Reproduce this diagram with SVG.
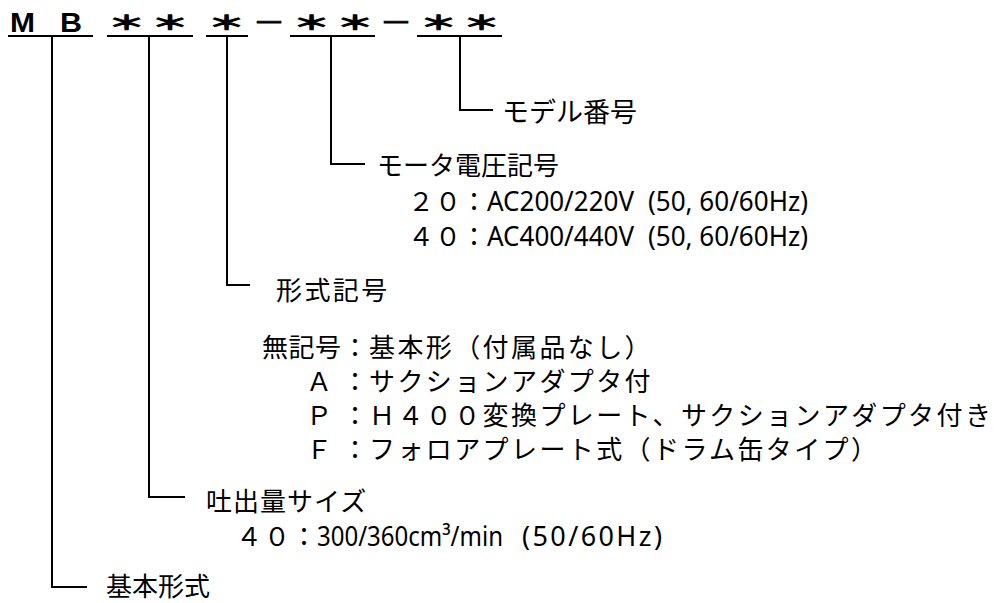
<svg xmlns="http://www.w3.org/2000/svg" width="995" height="603" viewBox="0 0 995 603">
<style>
  .jp { font-family: "Noto Sans CJK JP", "Noto Sans", sans-serif; font-size: 26px; fill: #000; }
  .sp { letter-spacing: 2.4px; }
  .num { font-family: "Noto Sans", "Noto Sans CJK JP", sans-serif; font-size: 27px; }
  .hd { font-family: "Liberation Sans", "DejaVu Sans", sans-serif; font-weight: bold; font-size: 28px; fill: #000; }
  .ast { font-family: "Noto Sans CJK JP", sans-serif; font-size: 19px; fill: #000; stroke: #000; stroke-width: 1.3; text-anchor: middle; }
  .dash { font-family: "Noto Sans CJK JP", sans-serif; font-size: 26px; fill: #000; stroke: #000; stroke-width: 0.8; text-anchor: middle; }
  .ln { stroke: #000; stroke-width: 2; fill: none; }
</style>
<rect width="995" height="603" fill="#fff"/>

<g id="header">
  <text class="hd" x="10" y="32" textLength="25" lengthAdjust="spacingAndGlyphs">M</text>
  <text class="hd" x="60" y="32" textLength="22" lengthAdjust="spacingAndGlyphs">B</text>
  <text class="ast" transform="translate(126.5,29.5) scale(1.9,1)">＊</text>
  <text class="ast" transform="translate(170,29.5) scale(1.9,1)">＊</text>
  <text class="ast" transform="translate(226.5,29.5) scale(1.9,1)">＊</text>
  <text class="dash" transform="translate(269,31.5) scale(1.25,1)">－</text>
  <text class="ast" transform="translate(311.5,29.5) scale(1.9,1)">＊</text>
  <text class="ast" transform="translate(355,29.5) scale(1.9,1)">＊</text>
  <text class="dash" transform="translate(396,31.5) scale(1.25,1)">－</text>
  <text class="ast" transform="translate(438.5,29.5) scale(1.9,1)">＊</text>
  <text class="ast" transform="translate(481.5,29.5) scale(1.9,1)">＊</text>
  <line class="ln" x1="8" y1="36" x2="93" y2="36"/>
  <line class="ln" x1="107" y1="36" x2="193" y2="36"/>
  <line class="ln" x1="206" y1="36" x2="248" y2="36"/>
  <line class="ln" x1="290" y1="36" x2="375" y2="36"/>
  <line class="ln" x1="417" y1="36" x2="502" y2="36"/>
</g>

<g id="connectors">
  <path class="ln" d="M52 36 V587 H87"/>
  <path class="ln" d="M149 36 V497 H185"/>
  <path class="ln" d="M227 36 V285 H250"/>
  <path class="ln" d="M331 36 V164 H365"/>
  <path class="ln" d="M460 36 V110 H493"/>
</g>

<g id="model-number">
  <text class="jp" x="502" y="122" style="font-size:27px">モデル番号</text>
</g>

<g id="motor-voltage">
  <text class="jp" x="377" y="175">モータ電圧記号</text>
  <text class="jp" y="211"><tspan x="408">２</tspan><tspan x="435">０</tspan><tspan x="461">：</tspan><tspan class="num" x="487" textLength="147" lengthAdjust="spacingAndGlyphs">AC200/220V</tspan><tspan class="num" x="648" textLength="160" lengthAdjust="spacingAndGlyphs">(50, 60/60Hz)</tspan></text>
  <text class="jp" y="246"><tspan x="408">４</tspan><tspan x="435">０</tspan><tspan x="461">：</tspan><tspan class="num" x="487" textLength="147" lengthAdjust="spacingAndGlyphs">AC400/440V</tspan><tspan class="num" x="648" textLength="160" lengthAdjust="spacingAndGlyphs">(50, 60/60Hz)</tspan></text>
</g>

<g id="type-symbol">
  <text class="jp sp" x="276" y="300">形式記号</text>
  <text class="jp" y="357"><tspan x="262" style="letter-spacing:0.5px">無記号</tspan><tspan x="342">：</tspan><tspan class="sp" x="369">基本形（付属品なし）</tspan></text>
  <text class="jp" y="391"><tspan x="306">Ａ</tspan><tspan x="342">：</tspan><tspan class="sp" x="369">サクションアダプタ付</tspan></text>
  <text class="jp" y="425"><tspan x="306">Ｐ</tspan><tspan x="342">：</tspan><tspan class="sp" x="369">Ｈ４００変換プレート、サクションアダプタ付き</tspan></text>
  <text class="jp" y="459"><tspan x="306">Ｆ</tspan><tspan x="342">：</tspan><tspan class="sp" x="369">フォロアプレート式（ドラム缶タイプ）</tspan></text>
</g>

<g id="discharge-size">
  <text class="jp" x="206" y="511" style="letter-spacing:1px">吐出量サイズ</text>
  <text class="jp" y="546"><tspan x="236">４</tspan><tspan x="264">０</tspan><tspan x="291">：</tspan><tspan class="num" x="317" textLength="186" lengthAdjust="spacingAndGlyphs">300/360cm³/min</tspan><tspan class="num" x="522" textLength="140" lengthAdjust="spacing">(50/60Hz)</tspan></text>
</g>

<g id="basic-type">
  <text class="jp" x="106" y="596">基本形式</text>
</g>
</svg>
